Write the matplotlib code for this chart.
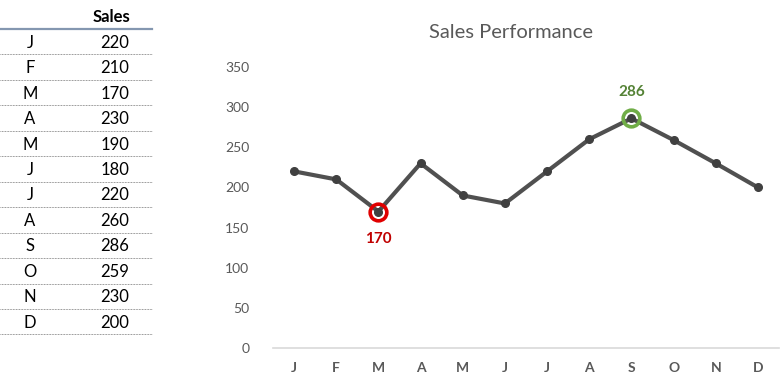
import matplotlib
matplotlib.use("Agg")
import matplotlib.pyplot as plt
from matplotlib.lines import Line2D

months = ["J", "F", "M", "A", "M", "J", "J", "A", "S", "O", "N", "D"]
sales = [220, 210, 170, 230, 190, 180, 220, 260, 286, 259, 230, 200]
yticks = [0, 50, 100, 150, 200, 250, 300, 350]
title = "Sales Performance"
header = "Sales"

W, H = 780, 387
plt.rcParams['font.family'] = ['Lato', 'DejaVu Sans']
fig = plt.figure(figsize=(W / 100, H / 100), dpi=100)

def fx(x):
    return x / W

def fy(y):
    return 1 - y / H

# ----- table -----
text_col = "#000000"
fig.text(fx(111), fy(17), header, ha="center", va="center", fontsize=12, fontweight="bold", color="#000000")
fig.add_artist(Line2D([fx(0), fx(152)], [fy(29), fy(29)], color="#8497b0", lw=1.6))
row_h = 25.45
for i, (m, v) in enumerate(zip(months, sales)):
    yc = 29 + row_h * (i + 0.5) + 1
    fig.text(fx(30), fy(yc), m, ha="center", va="center", fontsize=12, color=text_col)
    fig.text(fx(115), fy(yc), str(v), ha="center", va="center", fontsize=12, color=text_col)
    ysep = 29 + row_h * (i + 1)
    fig.add_artist(Line2D([fx(0), fx(152)], [fy(ysep), fy(ysep)], color="#808080", lw=0.7, ls=(0, (0.8, 0.8))))

# ----- chart -----
ax = fig.add_axes([fx(273), fy(348), fx(779) - fx(273), (348 - 67) / H])
x = list(range(len(months)))
ax.plot(x, sales, color="#505050", lw=3, marker="o", ms=5.5, mfc="#404040", mec="#404040", zorder=3, solid_capstyle="round")
ax.set_xlim(-0.5, len(months) - 0.5)
ax.set_ylim(0, 350)
ax.set_yticks(yticks)
ax.set_xticks(x)
ax.set_xticklabels(months)
for s in ["top", "right", "left"]:
    ax.spines[s].set_visible(False)
ax.spines["bottom"].set_color("#d9d9d9")
ax.spines["bottom"].set_linewidth(1.2)
ax.tick_params(axis="both", length=0, colors="#595959", labelsize=10)
ax.tick_params(axis="y", pad=17)
ax.tick_params(axis="x", pad=10)
for lab in ax.get_xticklabels():
    lab.set_fontweight("bold")

imin = sales.index(min(sales))
imax = sales.index(max(sales))
ax.plot([imin], [sales[imin]], marker="o", ms=12, mfc="none", mec="#e00000", mew=2.6, zorder=4)
ax.plot([imax], [sales[imax]], marker="o", ms=12, mfc="none", mec="#70ad47", mew=2.6, zorder=4)
ax.annotate(str(sales[imin]), (imin, sales[imin]), xytext=(0, -27), textcoords="offset pixels",
            ha="center", va="center", fontsize=11, fontweight="bold", color="#c00000")
ax.annotate(str(sales[imax]), (imax, sales[imax]), xytext=(0, 26), textcoords="offset pixels",
            ha="center", va="center", fontsize=11, fontweight="bold", color="#548235")

fig.text(fx(511), fy(32), title, ha="center", va="center", fontsize=14.5, color="#595959")

fig.savefig("out.png", dpi=100)
